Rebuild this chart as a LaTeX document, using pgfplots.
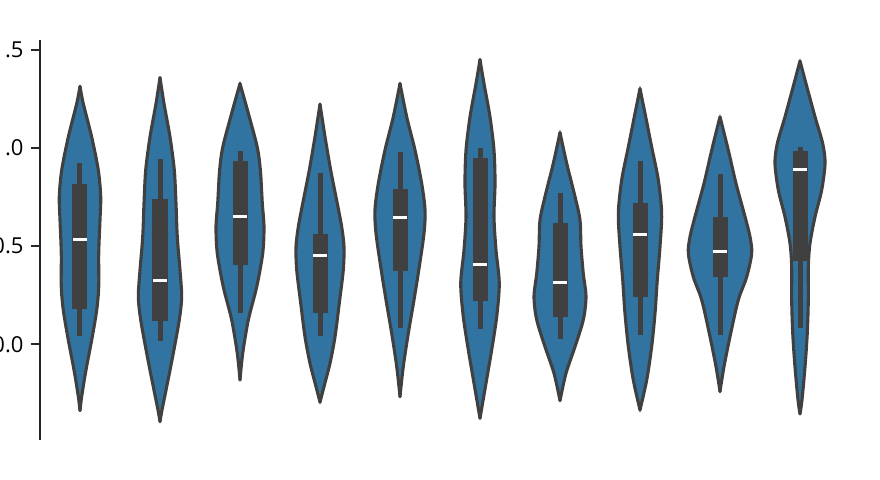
\documentclass[border=0pt]{standalone}
\usepackage{fontspec}
\setmainfont{Open Sans}
\usepackage{pgfplots}
\pgfplotsset{compat=1.18}
\usepackage{pgfplotstable}
\usepgfplotslibrary{statistics}

\definecolor{vblue}{HTML}{3274A1}
\definecolor{vgray}{HTML}{404040}
\definecolor{spine}{HTML}{262626}

% violin outlines: y value, half width (x units)
\pgfplotstableread{
y w
1.315 0
1.227 0.041
1.057 0.146
0.887 0.229
0.752 0.259
0.633 0.250
0.463 0.234
0.293 0.234
0.175 0.209
0.039 0.154
-0.131 0.075
-0.267 0.021
-0.338 0
}\va
\pgfplotstableread{
y w
1.359 0
1.227 0.050
1.057 0.125
0.887 0.179
0.718 0.200
0.548 0.216
0.378 0.250
0.242 0.271
0.124 0.241
-0.046 0.166
-0.216 0.084
-0.335 0.025
-0.394 0
}\vb
\pgfplotstableread{
y w
1.329 0
1.176 0.105
1.006 0.215
0.887 0.255
0.718 0.279
0.599 0.300
0.463 0.284
0.293 0.209
0.124 0.104
-0.046 0.034
-0.182 0
}\vc
\pgfplotstableread{
y w
1.224 0
1.057 0.063
0.887 0.134
0.718 0.216
0.599 0.271
0.497 0.300
0.378 0.291
0.209 0.241
0.039 0.188
-0.097 0.125
-0.216 0.050
-0.295 0
}\vd
\pgfplotstableread{
y w
1.329 0
1.159 0.084
0.989 0.188
0.820 0.271
0.684 0.313
0.565 0.300
0.395 0.241
0.226 0.175
0.056 0.104
-0.114 0.041
-0.267 0
}\ve
\pgfplotstableread{
y w
1.451 0
1.329 0.050
1.159 0.125
0.989 0.175
0.820 0.188
0.650 0.175
0.480 0.200
0.311 0.241
0.141 0.209
-0.029 0.146
-0.199 0.075
-0.318 0.025
-0.377 0
}\vf
\pgfplotstableread{
y w
1.079 0
0.922 0.084
0.752 0.188
0.633 0.250
0.497 0.263
0.361 0.291
0.242 0.325
0.124 0.291
-0.012 0.188
-0.148 0.075
-0.287 0
}\vg
\pgfplotstableread{
y w
1.303 0
1.176 0.063
1.006 0.146
0.837 0.229
0.667 0.271
0.497 0.250
0.327 0.216
0.158 0.188
-0.012 0.146
-0.182 0.084
-0.335 0
}\vh
\pgfplotstableread{
y w
1.159 0
0.989 0.104
0.820 0.200
0.650 0.313
0.548 0.375
0.463 0.396
0.344 0.334
0.226 0.229
0.056 0.134
-0.114 0.050
-0.241 0
}\vi
\pgfplotstableread{
y w
1.444 0
1.329 0.075
1.159 0.188
1.023 0.284
0.922 0.313
0.786 0.271
0.650 0.188
0.514 0.125
0.395 0.104
0.226 0.104
0.056 0.091
-0.114 0.063
-0.284 0.025
-0.355 0
}\vj

% each half is filled against the centre line (-- cycle), then stroked
\newcommand{\violin}[2]{%
  \addplot[vfill] table[x expr=#1+\thisrow{w}, y=y] {#2} -- cycle;
  \addplot[vfill] table[x expr=#1-\thisrow{w}, y=y] {#2} -- cycle;
  \addplot[outl] table[x expr=#1+\thisrow{w}, y=y] {#2};
  \addplot[outl] table[x expr=#1-\thisrow{w}, y=y] {#2};
}
% inner box: position, lower whisker, q1, median, q3, upper whisker
\newcommand{\innerbox}[6]{%
  \addplot[vgray, boxplot prepared={draw position=#1, lower whisker=#2,
    lower quartile=#3, median=#4, upper quartile=#5, upper whisker=#6}]
    coordinates {};
}

\begin{document}
\begin{tikzpicture}
\begin{axis}[
  name=ax,
  scale only axis, width=800pt, height=400pt,
  xmin=-0.5, xmax=9.5, ymin=-0.488, ymax=1.551,
  axis x line=none, axis y line*=left,
  axis line style={spine, line width=2pt},
  ytick={0,0.5,1,1.5},
  tick align=outside, major tick length=9pt,
  ytick style={spine, line width=2pt},
  yticklabel style={/pgf/number format/.cd, fixed, fixed zerofill, precision=1},
  /pgf/number format/assume math mode=true,
  tick label style={font=\fontsize{22}{26}\selectfont, text=black, xshift=-4pt},
  vfill/.style={fill=vblue, draw=vblue, line width=0.6pt, smooth, tension=0.5},
  outl/.style={draw=vgray, line width=3.1pt, smooth, tension=0.5, line cap=round, line join=round},
  boxplot/draw direction=y,
  boxplot/box extend=0.1875,
  boxplot/whisker extend=0,
  boxplot/every box/.style={fill=vgray, draw=none},
  boxplot/every whisker/.style={draw=vgray, line width=5pt},
  boxplot/every median/.style={draw=white, line width=3pt, shorten <=0.6pt, shorten >=0.6pt},
]
\violin{0}{\va}
\violin{1}{\vb}
\violin{2}{\vc}
\violin{3}{\vd}
\violin{4}{\ve}
\violin{5}{\vf}
\violin{6}{\vg}
\violin{7}{\vh}
\violin{8}{\vi}
\violin{9}{\vj}
\innerbox{0}{0.044}{0.178}{0.535}{0.815}{0.925}
\innerbox{1}{0.018}{0.119}{0.326}{0.743}{0.942}
\innerbox{2}{0.158}{0.404}{0.653}{0.935}{0.986}
\innerbox{3}{0.044}{0.158}{0.453}{0.562}{0.874}
\innerbox{4}{0.081}{0.373}{0.647}{0.789}{0.981}
\innerbox{5}{0.076}{0.220}{0.407}{0.952}{1.003}
\innerbox{6}{0.026}{0.137}{0.317}{0.616}{0.769}
\innerbox{7}{0.046}{0.239}{0.560}{0.721}{0.933}
\innerbox{8}{0.047}{0.341}{0.474}{0.650}{0.867}
\innerbox{9}{0.081}{0.426}{0.891}{0.986}{1.006}
\end{axis}
\pgfresetboundingbox
\path[use as bounding box] ([shift={(-40pt,-40pt)}]ax.south west) rectangle ([shift={(40pt,40pt)}]ax.north east);
\end{tikzpicture}
\end{document}
